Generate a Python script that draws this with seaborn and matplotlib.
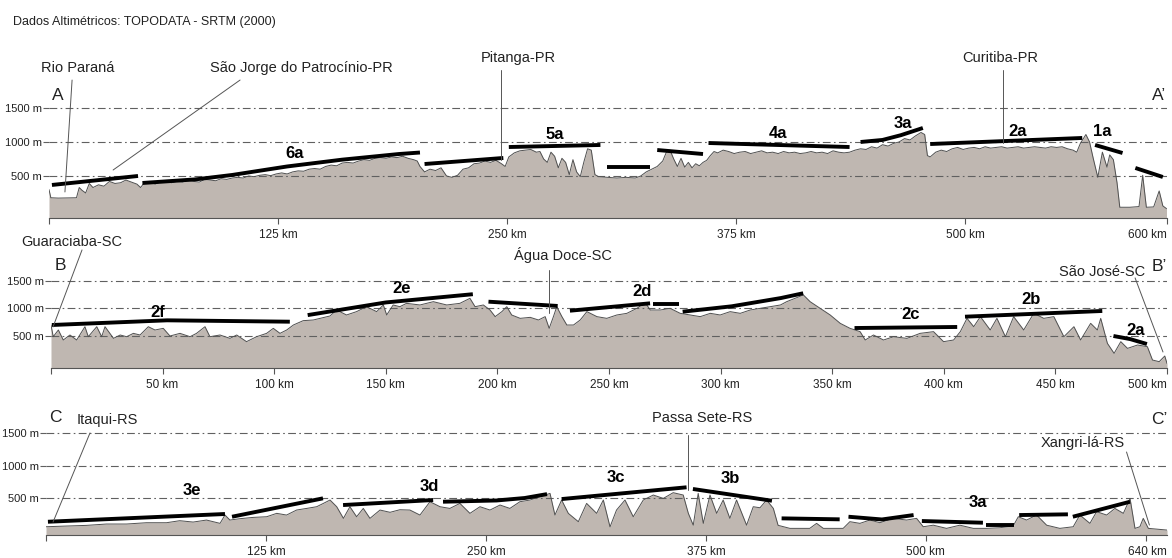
import matplotlib
matplotlib.use("Agg")
import matplotlib.pyplot as plt
import seaborn as sns

# ------------------------------------------------------------------ data
header = "Dados Altimétricos: TOPODATA - SRTM (2000)"
elev_ticks = [500, 1000, 1500]
elev_labels = ["500 m", "1000 m", "1500 m"]

# ---- Profile A - A'
a_km = [0, 1, 5, 10, 15, 16.5, 18, 20, 22, 24,
        27, 30, 33, 36, 39, 42, 45, 48, 50, 52,
        55, 58, 61, 64, 67, 70, 73, 76, 79, 82,
        85, 88, 91, 94, 97, 100, 103, 106, 109, 112,
        115, 118, 121, 124, 127, 130, 133, 136, 139, 142,
        145, 148, 151, 154, 157, 160, 163, 166, 169, 172,
        175, 178, 181, 184, 187, 190, 193, 196, 199, 201,
        202.5, 205, 208, 211, 214, 217, 220, 223, 226, 229,
        232, 235, 238, 241, 244, 247, 249, 251, 254, 257,
        260, 263, 266, 268, 270, 272, 274, 276, 278, 280,
        282, 284, 286, 288, 290, 292, 294, 296, 298, 300,
        305, 310, 315, 320, 323, 326, 329, 332, 335, 337,
        339, 341, 343, 345, 347, 349, 351, 353, 355, 357,
        359, 361, 363, 365, 368, 371, 374, 377, 380, 383,
        386, 389, 392, 395, 398, 401, 404, 407, 410, 413,
        416, 419, 422, 425, 428, 431, 434, 437, 440, 443,
        446, 449, 452, 455, 458, 461, 464, 467, 470, 473,
        476, 478, 479.5, 481, 484, 487, 490, 493, 496, 499,
        502, 505, 508, 511, 514, 517, 520, 523, 526, 529,
        532, 535, 538, 541, 544, 547, 550, 553, 556, 559,
        561, 563, 566, 568, 570, 572.5, 575, 577.5, 579, 581,
        583, 584.5, 590, 595, 597, 599, 603, 606, 608, 610]
a_m = [300, 180, 175, 178, 180, 330, 290, 250, 390, 330,
       370, 350, 420, 390, 400, 440, 410, 380, 330, 400,
       420, 380, 410, 430, 400, 420, 410, 440, 420, 410,
       450, 440, 430, 460, 450, 470, 480, 470, 500, 490,
       510, 520, 505, 530, 545, 530, 560, 575, 570, 600,
       610, 600, 640, 660, 650, 690, 700, 690, 720, 740,
       730, 760, 770, 760, 780, 770, 790, 760, 740, 720,
       640, 560, 600, 580, 620, 500, 480, 510, 600, 620,
       680, 690, 720, 700, 730, 680, 640, 780, 840, 870,
       880, 890, 850, 860, 750, 700, 850, 790, 620, 760,
       700, 520, 740, 560, 490, 710, 900, 880, 520, 490,
       480, 470, 480, 470, 500, 560, 600, 640, 720, 850,
       880, 750, 640, 760, 630, 700, 620, 680, 650, 700,
       730, 800, 860, 840, 880, 860, 830, 850, 860, 830,
       850, 870, 840, 850, 830, 860, 840, 850, 830, 840,
       860, 840, 850, 830, 870, 850, 840, 850, 880, 900,
       890, 930, 910, 960, 940, 980, 1000, 1050, 1030, 1090,
       1140, 1110, 800, 780, 850, 880, 860, 900, 920, 890,
       910, 920, 900, 930, 910, 920, 930, 910, 920, 930,
       910, 920, 930, 920, 910, 930, 920, 930, 900, 880,
       850, 980, 1110, 1000, 760, 480, 850, 630, 810, 740,
       400, 40, 40, 50, 510, 40, 45, 280, 60, 20]
a_seg_km = [[1.6, 48.6], [51, 80, 100, 130, 160, 191, 202.5], [205, 248],
            [251, 301], [304.5, 328], [332, 357], [360, 437],
            [443, 455, 465, 477], [481, 564], [571, 586], [593, 608]]
a_seg_m = [[368, 500], [397, 450, 515, 640, 740, 823, 845], [676, 765],
           [926, 956], [632, 632], [882, 823], [985, 926],
           [1000, 1030, 1100, 1206], [970, 1059], [956, 838], [618, 485]]
a_units = ["6a", "5a", "4a", "3a", "2a", "1a"]
a_unit_km = [134, 276, 398, 466, 529, 575]
a_unit_m = [838, 1117, 1132, 1279, 1147, 1147]
a_places = ["Rio Paraná", "São Jorge do Patrocínio-PR", "Pitanga-PR", "Curitiba-PR"]
a_place_km = [15.8, 138, 256, 519]
a_place_m = [2088, 2088, 2235, 2235]
a_lead_km = [[12.6, 8.7], [104.3, 35], [246.7, 246.7], [520.7, 520.7]]
a_lead_m = [[1911, 265], [1911, 588], [2058, 735], [2058, 985]]
a_dist_ticks = [0, 125, 250, 375, 500, 610]
a_dist_labels = ["", "125 km", "250 km", "375 km", "500 km", "600 km"]

# ---- Profile B - B'
b_km = [0, 1, 3.3, 5.5, 8.5, 11.5, 15.2, 16.7, 20.5, 22.7,
        24.2, 28, 31, 33.9, 36.9, 39.9, 43.6, 46.6, 50.3, 53.3,
        57.8, 62.3, 65.2, 69, 71.2, 75.7, 80.2, 83.2, 87.6, 92.1,
        96.6, 99.6, 102.6, 105.6, 108.6, 113, 117.5, 120.5, 125, 128,
        132.4, 136.9, 141.4, 145.9, 148.9, 150.4, 153.3, 156.3, 159.3, 165.3,
        171.3, 177.3, 183.2, 187.7, 190, 193.7, 196.7, 199, 202, 204.2,
        206.4, 210.2, 214.7, 218.4, 221.4, 223.2, 225.1, 226.6, 228.9, 231.1,
        234.1, 237.1, 240.1, 244.6, 249, 253.5, 258, 262.5, 266.2, 268.5,
        273, 277.4, 281.9, 286.4, 290.9, 295.4, 299.8, 304.3, 308.8, 313.3,
        317.8, 322.3, 326.8, 329.6, 333, 337.1, 340.1, 344.6, 349.1, 353.6,
        358, 362.5, 364.8, 368.5, 373, 377.5, 383.5, 389.4, 395.4, 399.9,
        404.4, 407.4, 410.4, 413.4, 416.4, 420.8, 423.8, 427.6, 431.3, 435.8,
        440.3, 444.8, 449.3, 453.8, 458.3, 461.3, 465.8, 468.8, 470.3, 473.3,
        476.3, 479.3, 482.3, 486.8, 491.2, 493.5, 496.5, 499, 500]
b_m = [700, 487, 609, 427, 518, 427, 669, 487, 669, 487,
       669, 457, 518, 487, 548, 518, 669, 609, 639, 500,
       548, 487, 548, 669, 487, 518, 457, 518, 397, 487,
       548, 639, 548, 609, 700, 779, 791, 821, 864, 973,
       882, 943, 1033, 943, 1064, 882, 1064, 1033, 1094, 1064,
       1124, 1064, 1094, 1185, 1033, 1064, 973, 852, 943, 1033,
       882, 821, 839, 791, 852, 639, 852, 1033, 852, 700,
       700, 791, 943, 852, 821, 882, 912, 1003, 1106, 973,
       973, 1003, 912, 882, 852, 912, 882, 943, 912, 973,
       1003, 1033, 1064, 1124, 1180, 1246, 1124, 1003, 882, 730,
       639, 579, 427, 518, 427, 487, 457, 548, 579, 397,
       427, 579, 821, 669, 852, 609, 821, 487, 852, 609,
       912, 821, 852, 487, 669, 427, 730, 609, 821, 366,
       184, 397, 275, 336, 306, 63, 33, 136, 0]
b_seg_km = [[0.4, 52, 107], [115, 150, 189], [196, 227], [232.5, 268.4],
            [269.8, 281.5], [283, 305, 327, 337], [360, 406], [409.5, 471],
            [476, 483.4, 491]]
b_seg_m = [[700, 785, 760], [880, 1110, 1260], [1124, 1046], [960, 1094],
           [1082, 1082], [942, 1040, 1190, 1277], [645, 664], [851, 955],
           [500, 445, 354]]
b_units = ["2f", "2e", "2d", "2c", "2b", "2a"]
b_unit_km = [48, 157, 265, 385, 439, 486]
b_unit_m = [928, 1364, 1310, 882, 1155, 609]
b_places = ["Guaraciaba-SC", "Água Doce-SC", "São José-SC"]
b_place_km = [9.4, 229.4, 470.9]
b_place_m = [2211, 1974, 1665]
b_lead_km = [[13.9, 0.9], [223.1, 223.1], [485.7, 498.2]]
b_lead_m = [[2065, 664], [1701, 919], [1556, 209]]
b_dist_ticks = [0, 50, 100, 150, 200, 250, 300, 350, 400, 450, 500]
b_dist_labels = ["", "50 km", "100 km", "150 km", "200 km", "250 km",
                 "300 km", "350 km", "400 km", "450 km", "500 km"]

# ---- Profile C - C'
c_km = [0, 11.7, 23, 34.4, 45.8, 57.1, 68.5, 76, 83.6, 91.2,
        98.9, 101.7, 104.5, 110.2, 117.8, 125.4, 131.1, 136.7, 142.4, 148.1,
        153.8, 157.6, 161.4, 165.2, 169, 172.7, 176.5, 180.3, 184.1, 189.8,
        195.5, 201.1, 206.8, 212.5, 218.2, 223.9, 229.5, 235.2, 240.9, 246.6,
        252.3, 258, 263.6, 269.3, 275, 280.7, 286.4, 289.2, 293, 296.8,
        302.5, 307.2, 312.9, 316.7, 320.5, 324.2, 329, 333.7, 339.4, 345.1,
        350.8, 356.4, 362.1, 365, 367.8, 370.6, 373.5, 377.3, 381.1, 384.8,
        388.6, 392.4, 398.1, 401.9, 405.7, 409.5, 413.3, 416, 422.7, 434,
        437.9, 441.7, 453, 456.8, 462.5, 468.2, 473.9, 481.4, 489, 494.7,
        498.5, 504.2, 511.7, 519.3, 526.9, 534.5, 542, 549.6, 552.5, 557.2,
        562.9, 568.6, 576.1, 583.7, 587.5, 593.2, 597, 602.7, 607.4, 612.2,
        616, 618.8, 621.6, 623.5, 626.4, 637]
c_m = [58, 69, 79, 100, 100, 120, 120, 151, 130, 161,
       110, 238, 161, 182, 202, 212, 264, 238, 315, 340,
       366, 417, 469, 366, 187, 366, 212, 340, 187, 315,
       280, 320, 315, 238, 443, 366, 340, 417, 264, 366,
       315, 392, 340, 443, 469, 520, 571, 238, 469, 264,
       136, 417, 264, 469, 56, 315, 469, 212, 469, 546,
       494, 582, 546, 264, 82, 571, 110, 546, 264, 469,
       187, 469, 82, 366, 350, 469, 340, 80, 33, 33,
       110, 33, 33, 136, 110, 161, 120, 187, 161, 187,
       58, 82, 33, 82, 33, 33, 43, 69, 212, 161,
       238, 82, 33, 58, 238, 110, 290, 238, 340, 264,
       494, 33, 58, 187, 33, 7]
c_seg_km = [[1.1, 101.7], [105.7, 157.4], [168.8, 220], [225.6, 256, 272, 284.7],
            [293, 364], [367.6, 412.5], [418, 451], [456, 475, 493],
            [497.7, 532.4], [534, 550], [553, 580.7], [583.5, 616]]
c_seg_m = [[135, 254], [212, 495], [392, 469], [443, 462, 500, 560],
           [484, 665], [639, 458], [187, 172], [212, 170, 238],
           [146, 120], [84, 84], [238, 249], [212, 443]]
c_units = ["3e", "3d", "3c", "3b", "3a"]
c_unit_km = [83, 218, 324, 389, 529.5]
c_unit_m = [608, 677, 816, 793, 431]
c_places = ["Itaqui-RS", "Passa Sete-RS", "Xangri-lá-RS"]
c_place_km = [35, 373, 589]
c_place_m = [1701, 1732, 1347]
c_lead_km = [[25, 4], [364.8, 364.8], [614, 627]]
c_lead_m = [[1501, 130], [1470, 623], [1208, 84]]
c_dist_ticks = [0, 125, 250, 375, 500, 625]
c_dist_labels = ["", "125 km", "250 km", "375 km", "500 km", "640 km"]

# ------------------------------------------------------------------ style
sns.set_theme(style="white")
plt.rcParams["font.family"] = ["Liberation Sans", "DejaVu Sans"]

W, H = 1172, 558
FILL = "#bfb7b1"
EDGE = "#505050"
GRID = "#606060"
TXT = "#222222"

fig = plt.figure(figsize=(W / 100, H / 100), dpi=100)
fig.patch.set_facecolor("white")


def px_axes(left, top, right, bottom):
    return fig.add_axes([left / W, 1 - bottom / H, (right - left) / W, (bottom - top) / H])


def draw_panel(ax, km, m, seg_km, seg_m, units, u_km, u_m, places, p_km, p_m,
               lead_km, lead_m, dticks, dlabels, xlim, ylim, tag, tag_pos, tagp_pos):
    ax.set_xlim(*xlim)
    ax.set_ylim(*ylim)
    ax.fill_between(km, m, ylim[0], color=FILL, lw=0, zorder=1)
    sns.lineplot(x=km, y=m, ax=ax, color=EDGE, lw=0.7, estimator=None,
                 sort=False, zorder=3)
    for sk, sm in zip(seg_km, seg_m):
        ax.plot(sk, sm, color="black", lw=2.8, solid_capstyle="butt", zorder=4)
    for t, x, y in zip(units, u_km, u_m):
        ax.text(x, y, t, fontsize=12, fontweight="bold", ha="center",
                va="center", color="black", zorder=5)
    for t, x, y, lk, lm in zip(places, p_km, p_m, lead_km, lead_m):
        ax.text(x, y, t, fontsize=10.5, ha="center", va="center", color=TXT,
                clip_on=False, zorder=6)
        ax.plot(lk, lm, color="#555555", lw=0.7, clip_on=False, zorder=6)
    ax.text(tag_pos[0], tag_pos[1], tag, fontsize=12.5, ha="left", va="center",
            color=TXT, clip_on=False)
    ax.text(tagp_pos[0], tagp_pos[1], tag + "’", fontsize=12.5, ha="right",
            va="center", color=TXT, clip_on=False)
    ax.set_yticks(elev_ticks)
    ax.set_yticklabels(elev_labels)
    ax.set_xticks(dticks)
    # last distance label is right-aligned at the end of the profile
    ax.set_xticklabels(dlabels[:-1] + [""])
    ax.annotate(dlabels[-1], xy=(xlim[1], 0), xycoords=("data", "axes fraction"),
                xytext=(0, -8), textcoords="offset points", ha="right", va="top",
                fontsize=8.5, color=TXT, annotation_clip=False)
    ax.set_axisbelow(False)
    ax.yaxis.grid(True, color=GRID, lw=0.8, linestyle=(0, (7, 3, 1.5, 3)))
    ax.xaxis.grid(False)
    for s in ["left", "top", "right"]:
        ax.spines[s].set_visible(False)
    ax.spines["bottom"].set_color("#555555")
    ax.spines["bottom"].set_linewidth(0.8)
    ax.tick_params(axis="y", length=4, width=0.8, color=GRID, pad=1,
                   labelsize=8, labelcolor=TXT, left=True)
    ax.tick_params(axis="x", length=4, width=0.8, color="#555555", pad=4,
                   labelsize=8.5, labelcolor=TXT, bottom=True, direction="out")
    ax.set_xlabel("")
    ax.set_ylabel("")
    ax.patch.set_alpha(0)


fig.text(13 / W, 1 - 22 / H, header, fontsize=9, color=TXT, ha="left", va="center")

axA = px_axes(49, 40, 1166.5, 218)
draw_panel(axA, a_km, a_m, a_seg_km, a_seg_m, a_units, a_unit_km, a_unit_m,
           a_places, a_place_km, a_place_m, a_lead_km, a_lead_m,
           a_dist_ticks, a_dist_labels, (0, 610), (-118, 2500), "A",
           (1.5, 1680), (610, 1690))

axB = px_axes(51, 238, 1167, 368)
draw_panel(axB, b_km, b_m, b_seg_km, b_seg_m, b_units, b_unit_km, b_unit_m,
           b_places, b_place_km, b_place_m, b_lead_km, b_lead_m,
           b_dist_ticks, b_dist_labels, (0, 500), (-82, 2282), "B",
           (1.5, 1790), (500, 1756))

axC = px_axes(46, 405, 1167, 535)
draw_panel(axC, c_km, c_m, c_seg_km, c_seg_m, c_units, c_unit_km, c_unit_m,
           c_places, c_place_km, c_place_m, c_lead_km, c_lead_m,
           c_dist_ticks, c_dist_labels, (0, 637), (-69, 1931), "C",
           (2, 1732), (637, 1701))

fig.savefig("out.png", dpi=100, facecolor="white")
